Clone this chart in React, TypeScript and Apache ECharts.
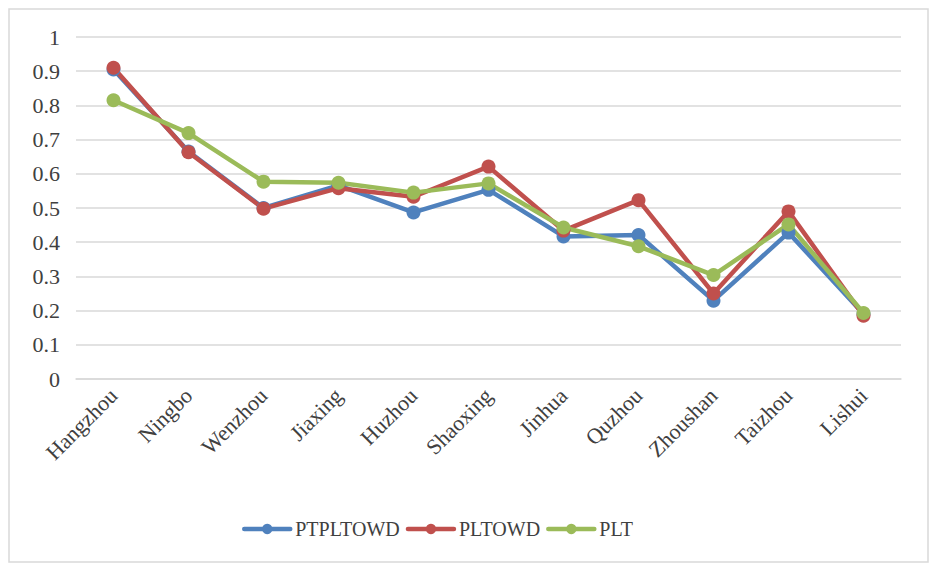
import React, { useEffect, useRef } from "react";
import * as echarts from "echarts";

const categories = ["Hangzhou", "Ningbo", "Wenzhou", "Jiaxing", "Huzhou", "Shaoxing", "Jinhua", "Quzhou", "Zhoushan", "Taizhou", "Lishui"];
const ptpltowd = [0.905, 0.665, 0.5, 0.566, 0.487, 0.553, 0.417, 0.421, 0.229, 0.428, 0.19];
const pltowd = [0.91, 0.663, 0.498, 0.558, 0.533, 0.621, 0.434, 0.523, 0.25, 0.49, 0.185];
const plt = [0.815, 0.719, 0.577, 0.574, 0.545, 0.572, 0.443, 0.388, 0.304, 0.452, 0.193];
const yTicks = [0, 0.1, 0.2, 0.3, 0.4, 0.5, 0.6, 0.7, 0.8, 0.9, 1];

const FONT = "Liberation Serif";
const TEXT = "#404040";

export default function App() {
  const ref = useRef<HTMLDivElement>(null);
  useEffect(() => {
    document.body.style.margin = "0";
    const chart = echarts.init(ref.current!, undefined, { renderer: "svg" });
    const mk = (name: string, data: number[], color: string) => ({
      name,
      type: "line",
      data,
      symbol: "circle",
      symbolSize: 14,
      lineStyle: { width: 4.5, color },
      itemStyle: { color },
    });
    chart.setOption({
      animation: false,
      backgroundColor: "#fff",
      textStyle: { fontFamily: FONT },
      graphic: [
        {
          type: "rect",
          shape: { x: 9, y: 9, width: 919, height: 553 },
          style: { fill: "none", stroke: "#d9d9d9", lineWidth: 1.5 },
          silent: true,
        },
      ],
      grid: { left: 76, right: 34, top: 37, bottom: 189 },
      legend: {
        left: 237,
        top: 514,
        itemWidth: 46,
        itemHeight: 13,
        itemGap: 6,
        lineStyle: { width: 4.5, cap: "round" },
        textStyle: { fontFamily: FONT, fontSize: 20, color: TEXT },
        data: ["PTPLTOWD", "PLTOWD", "PLT"],
      },
      xAxis: {
        type: "category",
        data: categories,
        boundaryGap: true,
        axisLine: { show: true, lineStyle: { color: "#d9d9d9", width: 1.5 } },
        axisTick: { show: false },
        axisLabel: { rotate: 45, fontSize: 22, fontFamily: FONT, color: TEXT, margin: 13, interval: 0 },
      },
      yAxis: {
        type: "value",
        min: 0,
        max: 1,
        interval: 0.1,
        axisLine: { show: false },
        axisTick: { show: false },
        splitLine: { lineStyle: { color: "#d9d9d9", width: 1.5 } },
        axisLabel: {
          fontSize: 22,
          fontFamily: FONT,
          color: TEXT,
          margin: 16,
          formatter: (v: number) => {
            const t = yTicks.find((x) => Math.abs(x - v) < 1e-6);
            return String(t !== undefined ? t : v);
          },
        },
      },
      series: [
        mk("PTPLTOWD", ptpltowd, "#4F81BD"),
        mk("PLTOWD", pltowd, "#C0504D"),
        mk("PLT", plt, "#9BBB59"),
      ],
    });
    return () => chart.dispose();
  }, []);
  return <div ref={ref} style={{ width: 935, height: 568 }} />;
}
